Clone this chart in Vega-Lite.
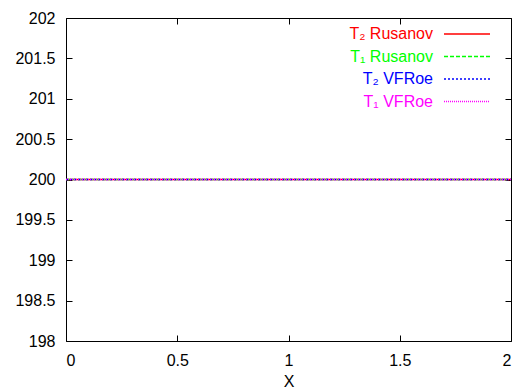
{
  "$schema": "https://vega.github.io/schema/vega-lite/v6.json",
  "width": 445,
  "height": 323,
  "autosize": {"type": "none"},
  "padding": {"left": 66, "top": 18, "right": 7, "bottom": 51},
  "background": "white",
  "config": {
    "font": "Liberation Sans",
    "view": {"stroke": "black", "strokeWidth": 1},
    "axis": {
      "grid": false,
      "domain": false,
      "tickColor": "black",
      "tickSize": -6,
      "tickWidth": 1,
      "labelFont": "Liberation Sans",
      "labelFontSize": 16,
      "labelColor": "black",
      "titleFont": "Liberation Sans",
      "titleFontSize": 16,
      "titleFontWeight": "normal",
      "titleColor": "black"
    }
  },
  "data": {
    "values": [
      {"x": 0, "y": 200, "series": "T₂ Rusanov"},
      {"x": 2, "y": 200, "series": "T₂ Rusanov"},
      {"x": 0, "y": 200, "series": "T₁ Rusanov"},
      {"x": 2, "y": 200, "series": "T₁ Rusanov"},
      {"x": 0, "y": 200, "series": "T₂ VFRoe"},
      {"x": 2, "y": 200, "series": "T₂ VFRoe"},
      {"x": 0, "y": 200, "series": "T₁ VFRoe"},
      {"x": 2, "y": 200, "series": "T₁ VFRoe"}
    ]
  },
  "layer": [
    {
      "mark": {"type": "line", "strokeWidth": 1.5},
      "encoding": {
        "x": {
          "field": "x", "type": "quantitative",
          "scale": {"domain": [0, 2], "nice": false},
          "axis": {"orient": "bottom", "values": [0, 0.5, 1, 1.5, 2], "format": "~g", "title": "X", "labelPadding": 17, "titlePadding": 5}
        },
        "y": {
          "field": "y", "type": "quantitative",
          "scale": {"domain": [198, 202], "zero": false, "nice": false},
          "axis": {"orient": "left", "values": [198, 198.5, 199, 199.5, 200, 200.5, 201, 201.5, 202], "format": "~g", "title": null, "labelPadding": 17}
        },
        "color": {
          "field": "series", "type": "nominal",
          "scale": {"domain": ["T₂ Rusanov", "T₁ Rusanov", "T₂ VFRoe", "T₁ VFRoe"], "range": ["#ff0000", "#00ff00", "#0000ff", "#ff00ff"]},
          "legend": {
            "title": null, "orient": "none", "legendX": 377, "legendY": 5, "padding": 0,
            "symbolType": "stroke", "symbolSize": 2116, "symbolStrokeWidth": 1.5,
            "labelFont": "Liberation Sans", "labelFontSize": 16, "labelLimit": 0, "rowPadding": 3.5,
            "encode": {
              "symbols": {"update": {"y": {"value": 11}}},
              "labels": {"update": {"fill": {"scale": "color", "field": "value"}, "x": {"value": -10}, "y": {"value": 11}, "align": {"value": "right"}}}
            }
          }
        },
        "strokeDash": {
          "field": "series", "type": "nominal",
          "scale": {"domain": ["T₂ Rusanov", "T₁ Rusanov", "T₂ VFRoe", "T₁ VFRoe"], "range": [[1, 0], [4, 2], [2, 2], [1, 1]]},
          "legend": {
            "title": null, "orient": "none", "legendX": 377, "legendY": 5, "padding": 0,
            "symbolType": "stroke", "symbolSize": 2116, "symbolStrokeWidth": 1.5,
            "labelFont": "Liberation Sans", "labelFontSize": 16, "labelLimit": 0, "rowPadding": 3.5,
            "encode": {
              "symbols": {"update": {"y": {"value": 11}}},
              "labels": {"update": {"fill": {"scale": "color", "field": "value"}, "x": {"value": -10}, "y": {"value": 11}, "align": {"value": "right"}}}
            }
          }
        }
      }
    },
    {
      "mark": {"type": "line", "opacity": 0},
      "encoding": {
        "x": {"field": "x", "type": "quantitative", "axis": {"orient": "top", "values": [0, 0.5, 1, 1.5, 2], "labels": false, "title": null}},
        "y": {"field": "y", "type": "quantitative", "axis": {"orient": "right", "values": [198, 198.5, 199, 199.5, 200, 200.5, 201, 201.5, 202], "labels": false, "title": null}}
      }
    }
  ],
  "resolve": {"axis": {"x": "independent", "y": "independent"}}
}
